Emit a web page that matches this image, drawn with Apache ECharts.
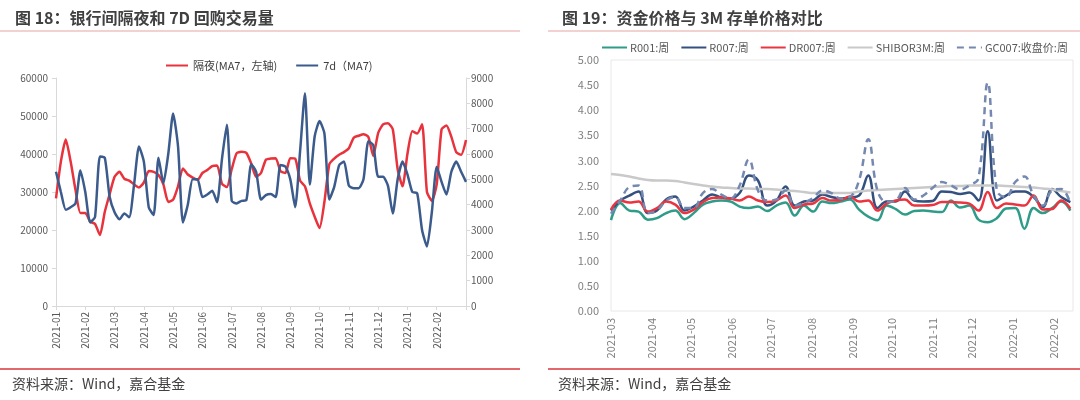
<!DOCTYPE html>
<html>
<head>
<meta charset="utf-8">
<script src="https://cdn.jsdelivr.net/npm/echarts@6/dist/echarts.min.js"></script>
<style>
  html, body { margin: 0; padding: 0; background: #fff; }
  #chart { width: 1080px; height: 400px; }
</style>
</head>
<body>
<div id="chart"></div>
<script>
// ---- left chart: 隔夜 / 7D 回购交易量 (6 samples per month, MA7) ----
const leftMonths = ['2021-01', '2021-02', '2021-03', '2021-04', '2021-05', '2021-06', '2021-07',
  '2021-08', '2021-09', '2021-10', '2021-11', '2021-12', '2022-01', '2022-02']
const overnight = [
  28300, 38000, 43800, 38000, 30500, 24500,
  24500, 22200, 21600, 18700, 24800, 29500,
  34000, 35300, 33500, 33000, 32000, 31200,
  32500, 35500, 35300, 34500, 32000, 27400,
  28000, 31500, 36200, 34600, 33800, 33200,
  35000, 35800, 36800, 37000, 32200, 31300,
  36000, 40200, 40600, 40300, 37500, 34000,
  35000, 38500, 38800, 38900, 35500, 35000,
  38900, 38800, 33000, 31500, 27000, 23500,
  20500, 27500, 37300, 38800, 39800, 40500,
  41500, 44300, 44800, 45200, 44500, 39500,
  45500, 47800, 48100, 46500, 36000, 31500,
  40000, 46000, 45400, 47800, 30000, 27700,
  32000, 46500, 47500, 44500, 40500, 39800,
  43700
]
const sevenDay = [
  5300, 4500, 3800, 3900, 4050, 5350,
  4500, 3300, 3520, 5900, 5850, 4300,
  3700, 3420, 3650, 3500, 4800, 6300,
  5700, 3900, 3590, 5850, 4840, 6000,
  7600, 6300, 3300, 4000, 5000, 5000,
  4300, 4400, 4550, 4100, 5800, 7150,
  4150, 4050, 4150, 4180, 5600, 5300,
  4200, 4380, 4420, 4300, 5570, 5500,
  5000, 3900, 6090, 8400, 4800, 6700,
  7300, 6800, 4200, 4700, 5550, 5700,
  4750, 4650, 4650, 5000, 6500, 6350,
  5100, 5100, 4750, 3650, 5000, 5700,
  5200, 4500, 4450, 3000, 2350, 3700,
  5500, 4900, 4400, 5300, 5700, 5300,
  4900
]

// ---- right chart: 资金价格与 3M 存单价格 (weekly) ----
const weeks = [
  '2021-03-01', '2021-03-08', '2021-03-15', '2021-03-22', '2021-03-29',
  '2021-04-05', '2021-04-12', '2021-04-19', '2021-04-26',
  '2021-05-03', '2021-05-10', '2021-05-17', '2021-05-24', '2021-05-31',
  '2021-06-07', '2021-06-14', '2021-06-21', '2021-06-28',
  '2021-07-05', '2021-07-12', '2021-07-19', '2021-07-26',
  '2021-08-02', '2021-08-09', '2021-08-16', '2021-08-23', '2021-08-30',
  '2021-09-06', '2021-09-13', '2021-09-20', '2021-09-27',
  '2021-10-04', '2021-10-11', '2021-10-18', '2021-10-25',
  '2021-11-01', '2021-11-08', '2021-11-15', '2021-11-22', '2021-11-29',
  '2021-12-06', '2021-12-13', '2021-12-20', '2021-12-27',
  '2022-01-03', '2022-01-10', '2022-01-17', '2022-01-24', '2022-01-31',
  '2022-02-07', '2022-02-14'
]
const r001 = [1.81, 2.15, 2.0, 1.98, 1.82, 1.85, 1.95, 2.0, 1.83, 1.95,
  2.12, 2.18, 2.2, 2.18, 2.08, 2.05, 2.08, 1.99, 2.1, 2.16,
  1.9, 2.1, 1.98, 2.18, 2.15, 2.18, 2.22, 2.02, 1.88, 1.81,
  2.1, 2.03, 1.92, 1.99, 2.0, 1.98, 1.97, 2.2, 2.06, 2.1,
  1.82, 1.77, 1.85, 2.04, 2.05, 1.64, 2.05, 1.95, 2.05, 2.18, 2.0]
const r007 = [2.0, 2.2, 2.3, 2.38, 1.95, 2.0, 2.22, 2.28, 2.0, 2.08,
  2.2, 2.32, 2.26, 2.24, 2.35, 2.7, 2.6, 2.1, 2.2, 2.48,
  2.1, 2.18, 2.2, 2.32, 2.27, 2.24, 2.26, 2.3, 2.7, 2.05,
  2.18, 2.18, 2.38, 2.2, 2.18, 2.19, 2.38, 2.37, 2.33, 2.36,
  2.2, 3.58, 2.2, 2.3, 2.38, 2.38, 2.27, 2.07, 2.43, 2.27, 2.17]
const dr007 = [2.02, 2.2, 2.16, 2.18, 1.98, 2.05, 2.18, 2.12, 1.95, 2.02,
  2.17, 2.25, 2.26, 2.24, 2.2, 2.28, 2.2, 2.17, 2.2, 2.3,
  2.05, 2.12, 2.14, 2.25, 2.2, 2.21, 2.28, 2.18, 2.2, 2.0,
  2.14, 2.2, 2.22, 2.1, 2.1, 2.11, 2.17, 2.17, 2.16, 2.14,
  2.0, 2.37, 2.05, 2.14, 2.12, 2.1, 2.3, 2.02, 2.03, 2.2, 2.04]
const shibor3m = [2.73, 2.71, 2.68, 2.64, 2.61, 2.6, 2.6, 2.59, 2.56, 2.53,
  2.5, 2.48, 2.46, 2.45, 2.44, 2.44, 2.43, 2.43, 2.42, 2.4,
  2.39, 2.37, 2.35, 2.35, 2.35, 2.35, 2.35, 2.38, 2.4, 2.41,
  2.42, 2.43, 2.44, 2.45, 2.46, 2.47, 2.48, 2.49, 2.49, 2.5,
  2.5, 2.5, 2.5, 2.49, 2.48, 2.47, 2.46, 2.44, 2.42, 2.39, 2.36]
const gc007 = [1.94, 2.2, 2.47, 2.5, 1.95, 2.0, 2.2, 2.27, 2.05, 2.05,
  2.35, 2.43, 2.32, 2.24, 2.5, 3.02, 2.4, 2.2, 2.22, 2.4,
  2.1, 2.15, 2.25, 2.4, 2.35, 2.24, 2.27, 2.6, 3.42, 2.4,
  2.17, 2.2, 2.45, 2.22, 2.3, 2.45, 2.57, 2.5, 2.42, 2.5,
  2.65, 4.55, 2.4, 2.27, 2.57, 2.68, 2.3, 2.1, 2.4, 2.43, 2.14]

// x categories of the left chart: month + sample slot, closing point at 2022-03
const leftCats = []
leftMonths.forEach(m => { for (let k = 0; k < 6; k++) leftCats.push(m + '#' + k) })
leftCats.push('2022-03#0')

const FONT = "'Noto Sans CJK SC', 'Noto Sans', sans-serif"
const axisGray = '#D9D9D9'
const DAY = 24 * 3600 * 1000

const chart = echarts.init(document.getElementById('chart'))

const monthTick = (i) => i % 6 === 0

const option = {
  animation: false,
  backgroundColor: '#fff',
  textStyle: { fontFamily: FONT },
  title: [
    { text: '图 18：银行间隔夜和 7D 回购交易量', left: 10, top: 5,
      textStyle: { fontSize: 16, fontWeight: 'bold', color: '#404040', fontFamily: FONT } },
    { text: '图 19：资金价格与 3M 存单价格对比', left: 557, top: 5,
      textStyle: { fontSize: 16, fontWeight: 'bold', color: '#404040', fontFamily: FONT } },
  ],
  graphic: [
    { type: 'line', shape: { x1: 0, y1: 31, x2: 520, y2: 31 }, style: { stroke: '#E8A3A3', lineWidth: 1.2 } },
    { type: 'line', shape: { x1: 548, y1: 31, x2: 1080, y2: 31 }, style: { stroke: '#E8A3A3', lineWidth: 1.2 } },
    { type: 'line', shape: { x1: 0, y1: 369, x2: 520, y2: 369 }, style: { stroke: '#D9363E', lineWidth: 1.5 } },
    { type: 'line', shape: { x1: 548, y1: 369, x2: 1080, y2: 369 }, style: { stroke: '#D9363E', lineWidth: 1.5 } },
    { type: 'text', left: 12, top: 377, style: { text: '资料来源：Wind，嘉合基金', fill: '#404040', font: '14px ' + FONT } },
    { type: 'text', left: 558, top: 377, style: { text: '资料来源：Wind，嘉合基金', fill: '#404040', font: '14px ' + FONT } },
  ],
  legend: [
    {
      data: ['隔夜(MA7，左轴)', '7d（MA7)'],
      left: 160, top: 55, itemWidth: 22, itemHeight: 10, itemGap: 18,
      itemStyle: { opacity: 0 },
      textStyle: { fontSize: 11, color: '#404040', fontFamily: FONT },
    },
    {
      data: ['R001:周', 'R007:周', 'DR007:周', 'SHIBOR3M:周', 'GC007:收盘价:周'],
      left: 596, top: 37, width: 484, itemWidth: 25, itemHeight: 10, itemGap: 11,
      itemStyle: { opacity: 0 },
      textStyle: { fontSize: 11, color: '#595959', fontFamily: FONT, padding: [0, 0, 0, -2] },
    },
  ],
  grid: [
    { left: 56, right: 614, top: 78, bottom: 94 },
    { left: 611, right: 7, top: 60, bottom: 89, show: true, borderColor: '#E8E8E8', borderWidth: 1 },
  ],
  xAxis: [
    {
      type: 'category', gridIndex: 0, data: leftCats, boundaryGap: false,
      axisLine: { lineStyle: { color: axisGray } },
      axisTick: { interval: monthTick, length: 4, lineStyle: { color: axisGray } },
      axisLabel: {
        interval: (i) => i % 6 === 0 && i < leftCats.length - 1,
        rotate: 90, margin: 6, fontSize: 10, color: '#595959',
        formatter: (v) => v.slice(0, 7),
      },
      splitLine: { show: false },
    },
    {
      type: 'time', gridIndex: 1, min: '2021-03-01', max: '2022-02-16',
      minInterval: 28 * DAY, maxInterval: 31 * DAY,
      axisLine: { show: false },
      axisTick: { show: false },
      axisLabel: {
        rotate: 90, margin: 7, fontSize: 11, color: '#7F7F7F',
        formatter: (v) => echarts.time.format(v, '{yyyy}-{MM}', false),
      },
      splitLine: { show: false },
    },
  ],
  yAxis: [
    {
      type: 'value', gridIndex: 0, min: 0, max: 60000, interval: 10000,
      axisLine: { show: true, lineStyle: { color: axisGray } },
      axisTick: { show: true, length: 4, lineStyle: { color: axisGray } },
      axisLabel: { fontSize: 10, color: '#595959', margin: 8, formatter: (v) => String(v) },
      splitLine: { show: false },
    },
    {
      type: 'value', gridIndex: 0, position: 'right', min: 0, max: 9000, interval: 1000,
      axisLine: { show: true, lineStyle: { color: axisGray } },
      axisTick: { show: true, length: 4, lineStyle: { color: axisGray } },
      axisLabel: { fontSize: 10, color: '#595959', margin: 5, formatter: (v) => String(v) },
      splitLine: { show: false },
    },
    {
      type: 'value', gridIndex: 1, min: 0, max: 5, interval: 0.5,
      axisLine: { show: false }, axisTick: { show: false },
      axisLabel: { fontSize: 11, color: '#7F7F7F', margin: 12, formatter: (v) => v.toFixed(2) },
      splitLine: { show: false },
    },
  ],
  series: [
    {
      name: '隔夜(MA7，左轴)', type: 'line', xAxisIndex: 0, yAxisIndex: 0,
      data: overnight, symbol: 'none', smooth: 0.2,
      lineStyle: { width: 2.5, color: '#E8323C' }, itemStyle: { color: '#E8323C' },
    },
    {
      name: '7d（MA7)', type: 'line', xAxisIndex: 0, yAxisIndex: 1,
      data: sevenDay, symbol: 'none', smooth: 0.2,
      lineStyle: { width: 2.5, color: '#3B5B8C' }, itemStyle: { color: '#3B5B8C' },
    },
    {
      name: 'R001:周', type: 'line', xAxisIndex: 1, yAxisIndex: 2,
      data: weeks.map((d, i) => [d, r001[i]]), symbol: 'none', smooth: 0.4,
      lineStyle: { width: 2.5, color: '#2E9C88' }, itemStyle: { color: '#2E9C88' },
    },
    {
      name: 'R007:周', type: 'line', xAxisIndex: 1, yAxisIndex: 2,
      data: weeks.map((d, i) => [d, r007[i]]), symbol: 'none', smooth: 0.4,
      lineStyle: { width: 2.5, color: '#34507E' }, itemStyle: { color: '#34507E' },
    },
    {
      name: 'DR007:周', type: 'line', xAxisIndex: 1, yAxisIndex: 2,
      data: weeks.map((d, i) => [d, dr007[i]]), symbol: 'none', smooth: 0.4,
      lineStyle: { width: 2.5, color: '#EA3440' }, itemStyle: { color: '#EA3440' },
    },
    {
      name: 'SHIBOR3M:周', type: 'line', xAxisIndex: 1, yAxisIndex: 2,
      data: weeks.map((d, i) => [d, shibor3m[i]]), symbol: 'none', smooth: 0.4,
      lineStyle: { width: 2.5, color: '#C9C9C9' }, itemStyle: { color: '#C9C9C9' },
    },
    {
      name: 'GC007:收盘价:周', type: 'line', xAxisIndex: 1, yAxisIndex: 2,
      data: weeks.map((d, i) => [d, gc007[i]]), symbol: 'none', smooth: 0.4,
      lineStyle: { width: 2.5, color: '#7488B0', type: [7, 5] }, itemStyle: { color: '#7488B0' },
    },
  ],
}

chart.setOption(option)
</script>
</body>
</html>
